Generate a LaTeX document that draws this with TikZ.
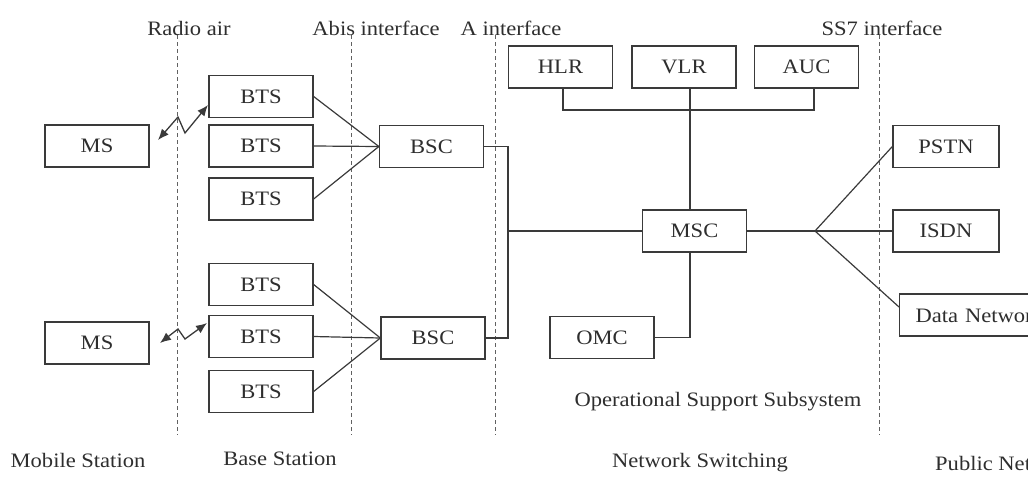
\documentclass[tikz,border=0pt]{standalone}
\usepackage{fontspec}
\setmainfont{Liberation Serif}[FakeStretch=1.1]
\usetikzlibrary{arrows.meta}
\definecolor{ln}{HTML}{3A3A3A}
\definecolor{tx}{HTML}{2E2E2E}
\begin{document}
\begin{tikzpicture}[x=1pt,y=-1pt,
  box/.style={draw=ln,line width=1.3pt,minimum width=104pt,minimum height=42pt,inner sep=0pt,font=\fontsize{20.5}{23}\selectfont,text=tx},
  lbl/.style={font=\fontsize{20.5}{23}\selectfont,text=tx,inner sep=0pt},
  conn/.style={draw=ln,line width=1.2pt},
  iface/.style={draw=ln!80,line width=1pt,dash pattern=on 4pt off 3pt},
  radio/.style={draw=ln,line width=1.3pt,{Latex[length=11pt,width=9pt]}-{Latex[length=11pt,width=9pt]}}]
\useasboundingbox (0,0) rectangle (1028,477);
\clip (0,0) rectangle (1028,477);
% interface lines
\coordinate (ra1) at (177,35); \coordinate (ra2) at (177,435);
\coordinate (ab1) at (351,35); \coordinate (ab2) at (351,435);
\coordinate (ai1) at (495,35); \coordinate (ai2) at (495,435);
\coordinate (ss1) at (879,35); \coordinate (ss2) at (879,435);
\draw[iface] (ra1) -- (ra2);
\draw[iface] (ab1) -- (ab2);
\draw[iface] (ai1) -- (ai2);
\draw[iface] (ss1) -- (ss2);
% labels
\node[lbl] (lra) at (189,28) {Radio air};
\node[lbl] (lab) at (376,28) {Abis interface};
\node[lbl] (lai) at (511,28) {A interface};
\node[lbl] (lss) at (882,28) {SS7 interface};
\node[lbl] (lms) at (78,460) {Mobile Station};
\node[lbl] (lbs) at (280,459) {Base Station};
\node[lbl] (loss) at (718,402) {Operational Support Subsystem};
\node[lbl] (lns) at (700,463) {Network Switching};
\node[lbl,anchor=west] (lpn) at (935,463) {Public Network};
% boxes
\node[box,fill=white] (MS1) at (97,146) {MS};
\node[box,fill=white] (MS2) at (97,343) {MS};
\node[box,fill=white] (BTS1) at (261,96.5) {BTS};
\node[box,fill=white] (BTS2) at (261,146) {BTS};
\node[box,fill=white] (BTS3) at (261,199) {BTS};
\node[box,fill=white] (BTS4) at (261,284.5) {BTS};
\node[box,fill=white] (BTS5) at (261,336.5) {BTS};
\node[box,fill=white] (BTS6) at (261,391.5) {BTS};
\node[box,fill=white] (BSC1) at (431.5,146.5) {BSC};
\node[box,fill=white] (BSC2) at (433,338) {BSC};
\node[box,fill=white] (HLR) at (560.5,67) {HLR};
\node[box,fill=white] (VLR) at (684,67) {VLR};
\node[box,fill=white] (AUC) at (806.5,67) {AUC};
\node[box,fill=white] (MSC) at (694.5,231) {MSC};
\node[box,fill=white] (OMC) at (602,337.5) {OMC};
\node[box,fill=white,minimum width=106pt] (PSTN) at (946,146.5) {PSTN};
\node[box,fill=white,minimum width=106pt] (ISDN) at (946,231) {ISDN};
\node[box,fill=white,anchor=west,minimum width=190pt,align=left,text width=158pt] (DN) at (899,315) {Data Network};
% BTS to BSC
\draw[conn] (BTS1.east) -- (BSC1.west);
\draw[conn] (BTS2.east) -- (BSC1.west);
\draw[conn] (BTS3.east) -- (BSC1.west);
\draw[conn] (BTS4.east) -- (BSC2.west);
\draw[conn] (BTS5.east) -- (BSC2.west);
\draw[conn] (BTS6.east) -- (BSC2.west);
% BSC to MSC
\coordinate (abus) at (508,231);
\draw[conn] (BSC1.east) -| (abus) |- (BSC2.east);
\draw[conn] (abus) -- (MSC.west);
% HLR/AUC bus and VLR
\coordinate (hb) at (563,110);
\coordinate (aub) at (814,110);
\coordinate (vbus) at (690,0);
\draw[conn] (HLR.south -| hb) -- (hb) -- (aub) -- (AUC.south -| aub);
\draw[conn] (VLR.south -| vbus) -- (MSC.north -| vbus);
% OMC
\draw[conn] (OMC.east) -| (MSC.south -| vbus);
% public networks
\coordinate (fork) at (815,231);
\draw[conn] (MSC.east) -- (ISDN.west);
\draw[conn] (fork) -- (PSTN.west);
\draw[conn] (fork) -- ([yshift=8pt]DN.west);
% radio links
\coordinate (z1) at (178,117); \coordinate (z2) at (185,133);
\coordinate (z3) at (178,329); \coordinate (z4) at (185,339);
\coordinate (t1) at (158,140); \coordinate (t2) at (208,105);
\coordinate (t3) at (160,343); \coordinate (t4) at (207,323);
\draw[radio] (t1) -- (z1) -- (z2) -- (t2);
\draw[radio] (t3) -- (z3) -- (z4) -- (t4);
\end{tikzpicture}
\end{document}
